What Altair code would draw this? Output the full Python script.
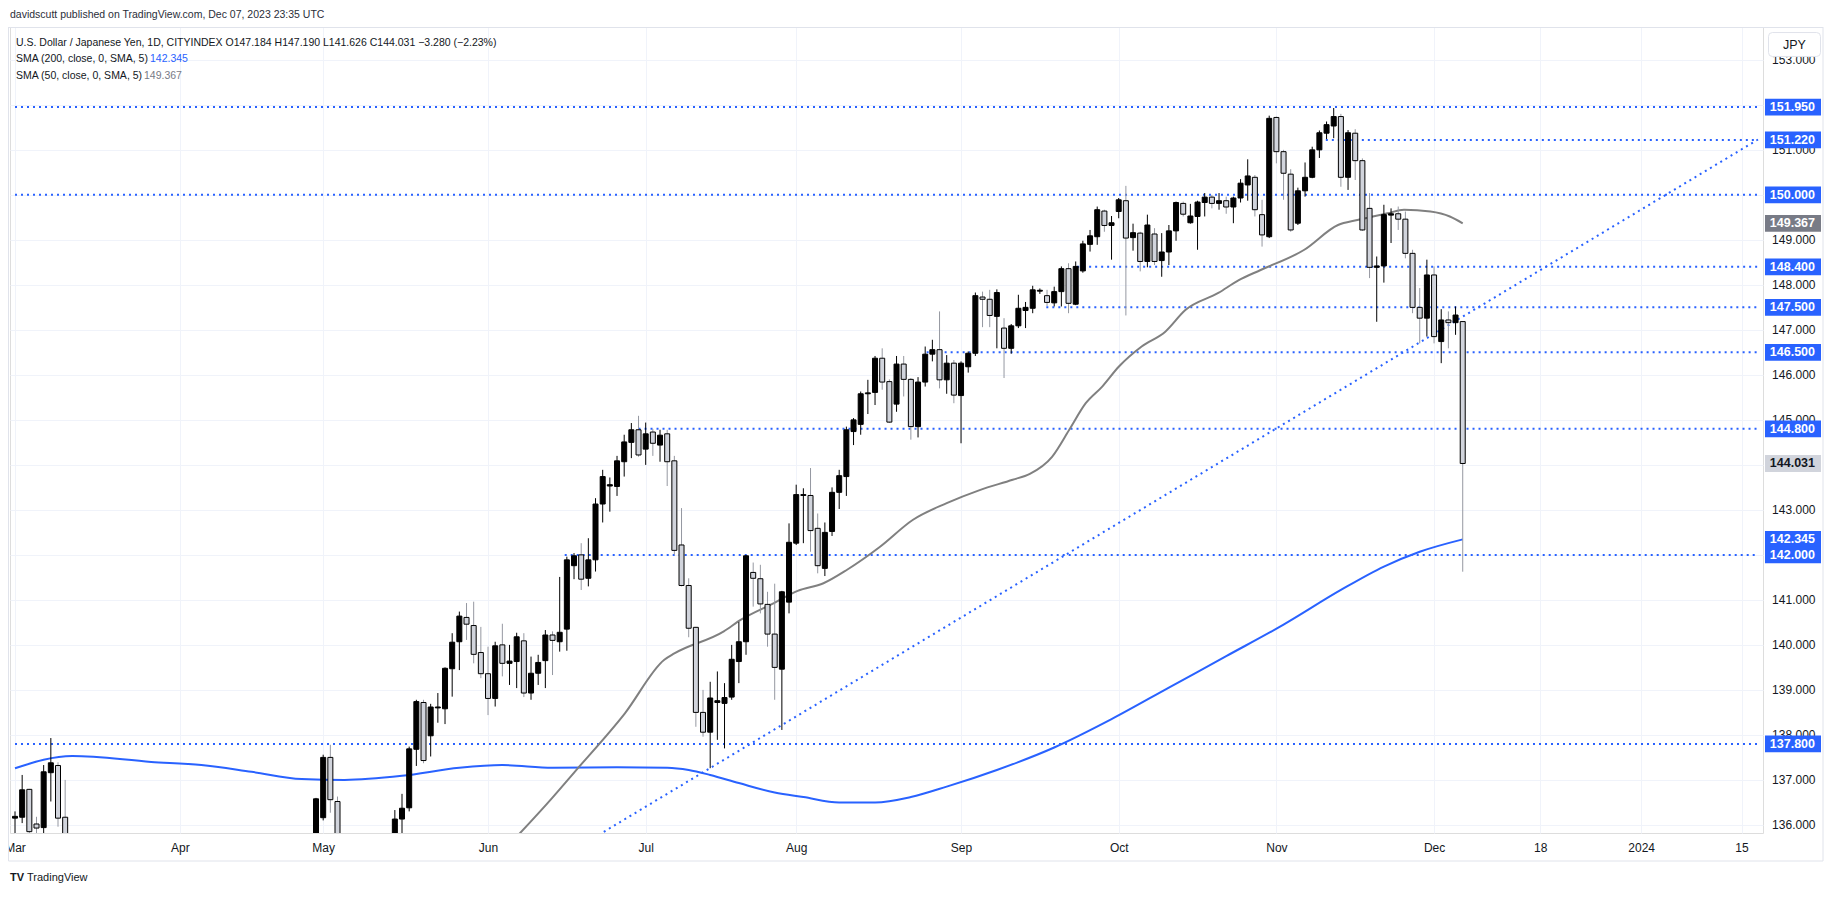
import altair as alt
import pandas as pd

# ---------------- data ----------------
bar_index = [0, 1, 2, 3, 4, 5, 6, 7, 42, 43, 44, 45,
             53, 54, 55, 56, 57, 58, 59, 60, 61, 62, 63, 64, 65, 66, 67, 68, 69, 70,
             71, 72, 73, 74, 75, 76, 77, 78, 79, 80, 81, 82, 83, 84, 85, 86, 87, 88, 89, 90,
             91, 92, 93, 94, 95, 96, 97, 98, 99, 100, 101, 102, 103, 104, 105, 106, 107, 108, 109, 110,
             111, 112, 113, 114, 115, 116, 117, 118, 119, 120, 121, 122, 123, 124, 125, 126, 127, 128, 129, 130,
             131, 132, 133, 134, 135, 136, 137, 138, 139, 140, 141, 142, 143, 144, 145, 146, 147, 148, 149, 150,
             151, 152, 153, 154, 155, 156, 157, 158, 159, 160, 161, 162, 163, 164, 165, 166, 167, 168, 169, 170,
             171, 172, 173, 174, 175, 176, 177, 178, 179, 180, 181, 182, 183, 184, 185, 186, 187, 188, 189, 190,
             191, 192, 193, 194, 195, 196, 197, 198, 199, 200, 201, 202]
bar_open = [136.15, 136.17, 136.79, 136.02, 135.94, 137.16, 137.32, 136.17, 133.90, 136.16, 137.50, 136.52,
            135.70, 136.13, 136.38, 137.68, 138.72, 137.98, 138.60, 138.58, 139.47, 140.07, 140.61, 140.43, 139.83, 139.36, 138.81, 140.00, 139.59, 139.63,
            140.09, 138.93, 139.37, 139.65, 140.22, 140.07, 140.35, 141.76, 142.00, 141.48, 141.89, 143.13, 143.53, 143.52, 144.07, 144.50, 144.78, 144.35, 144.73, 144.44,
            144.69, 144.09, 142.22, 141.32, 140.39, 138.50, 138.06, 138.72, 138.70, 138.84, 139.63, 140.07, 141.61, 141.47, 140.90, 140.24, 139.46, 140.95, 142.26, 143.32,
            143.32, 142.59, 141.70, 142.52, 143.39, 143.74, 144.74, 144.90, 145.58, 145.61, 146.37, 145.85, 145.35, 146.24, 145.90, 144.85, 145.84, 146.46, 146.56, 145.89,
            146.26, 145.54, 146.18, 146.48, 147.73, 147.68, 147.30, 147.04, 146.59, 147.09, 147.43, 147.48, 147.86, 147.76, 147.60, 147.85, 148.36, 147.57, 148.31, 148.90,
            149.07, 149.64, 149.32, 149.63, 149.87, 149.05, 149.15, 148.52, 149.13, 148.54, 148.73, 149.20, 149.81, 149.38, 149.52, 149.83, 149.95, 149.81, 149.87, 149.73,
            149.93, 150.22, 150.39, 149.56, 149.07, 151.72, 150.96, 150.46, 149.37, 150.09, 150.39, 151.00, 151.37, 151.53, 151.74, 150.39, 151.37, 150.76, 149.70, 148.39,
            148.42, 149.55, 149.58, 149.46, 148.70, 147.50, 147.26, 148.22, 146.74, 147.22, 147.16, 147.184]
bar_high = [136.30, 137.11, 136.80, 136.18, 137.33, 137.93, 137.39, 137.00, 136.60, 137.56, 137.78, 136.63,
            136.33, 136.69, 137.74, 138.78, 138.78, 138.69, 138.93, 139.50, 140.26, 140.74, 140.93, 140.96, 140.40, 139.96, 140.07, 140.47, 140.00, 140.27,
            140.26, 139.74, 139.78, 140.33, 140.30, 141.51, 141.96, 142.04, 142.26, 142.37, 143.26, 143.89, 143.72, 144.20, 144.67, 144.93, 145.09, 144.94, 144.80, 144.78,
            144.78, 144.20, 143.04, 141.48, 140.40, 139.00, 139.18, 139.41, 139.15, 140.00, 140.51, 142.00, 141.83, 141.78, 141.18, 141.36, 141.20, 142.70, 143.56, 143.48,
            143.93, 142.92, 142.72, 143.50, 143.89, 144.85, 145.04, 145.63, 145.89, 146.42, 146.59, 145.90, 146.42, 146.42, 145.93, 145.95, 146.63, 146.78, 147.41, 146.44,
            146.33, 146.30, 146.52, 147.83, 147.85, 147.89, 147.90, 147.26, 147.13, 147.78, 147.62, 147.98, 147.92, 147.89, 147.96, 148.41, 148.48, 148.52, 148.98, 149.22,
            149.74, 149.67, 149.53, 149.93, 150.20, 149.36, 149.18, 149.56, 149.26, 149.15, 149.33, 149.85, 149.85, 149.80, 149.87, 150.04, 150.00, 150.04, 149.96, 149.96,
            150.35, 150.79, 150.44, 149.89, 151.76, 151.74, 151.00, 150.57, 150.16, 150.72, 151.07, 151.43, 151.63, 151.93, 151.80, 151.44, 151.46, 150.81, 150.04, 148.63,
            149.78, 149.70, 149.74, 149.63, 148.78, 147.93, 148.56, 148.41, 147.46, 147.41, 147.52, 147.190]
bar_low = [135.60, 136.04, 135.60, 135.80, 135.80, 136.52, 135.96, 134.90, 133.30, 136.10, 136.27, 134.50,
           135.50, 135.80, 136.30, 137.31, 137.37, 137.52, 138.27, 138.24, 138.85, 139.44, 140.11, 139.59, 139.26, 138.44, 138.63, 139.30, 139.11, 139.04,
           138.84, 138.78, 139.11, 139.04, 139.33, 139.85, 139.87, 141.46, 141.22, 141.30, 141.63, 142.72, 142.96, 143.31, 143.74, 144.15, 144.18, 144.00, 144.20, 144.07,
           143.53, 142.00, 141.30, 140.17, 138.18, 137.96, 137.26, 137.89, 137.70, 138.78, 139.15, 139.78, 140.85, 140.70, 139.96, 138.78, 138.11, 140.70, 142.22, 142.26,
           142.07, 141.59, 141.53, 142.42, 143.02, 143.31, 144.44, 144.67, 145.13, 145.33, 145.67, 144.93, 145.18, 145.52, 144.56, 144.61, 145.74, 146.30, 145.70, 145.58,
           145.37, 144.48, 146.05, 146.42, 147.06, 147.06, 146.59, 145.93, 146.47, 147.04, 147.04, 147.37, 147.80, 147.53, 147.52, 147.52, 147.37, 147.55, 148.27, 148.74,
           148.89, 149.18, 148.56, 149.48, 147.32, 148.76, 148.30, 148.39, 148.44, 148.18, 148.44, 148.98, 149.52, 149.36, 148.78, 149.52, 149.70, 149.67, 149.58, 149.37,
           149.83, 149.87, 149.52, 148.85, 149.04, 150.70, 149.89, 149.18, 149.33, 149.96, 150.37, 150.82, 151.24, 151.26, 150.18, 150.11, 150.33, 149.20, 148.15, 147.18,
           148.05, 148.93, 149.22, 148.59, 147.37, 146.70, 146.85, 146.70, 146.26, 146.59, 146.89, 141.626]
bar_close = [136.19, 136.78, 135.85, 135.93, 137.18, 137.38, 136.15, 135.20, 136.58, 137.50, 136.56, 134.70,
             136.13, 136.37, 137.69, 138.74, 137.43, 138.62, 138.62, 139.48, 140.06, 140.64, 140.46, 139.79, 139.36, 138.81, 139.98, 139.59, 139.64, 140.18,
             138.93, 139.37, 139.61, 140.22, 140.10, 140.28, 141.89, 141.98, 141.46, 141.89, 143.13, 143.74, 143.56, 144.09, 144.51, 144.78, 144.22, 144.69, 144.48, 144.66,
             144.07, 142.10, 141.32, 140.37, 138.50, 138.06, 138.82, 138.76, 138.83, 139.68, 140.07, 141.98, 141.48, 140.91, 140.24, 139.50, 141.18, 142.28, 143.34, 143.34,
             142.54, 141.76, 142.50, 143.39, 143.76, 144.78, 145.00, 145.58, 145.60, 146.37, 145.84, 144.95, 146.24, 145.90, 144.85, 145.84, 146.46, 146.56, 145.89, 146.26,
             145.55, 146.26, 146.48, 147.76, 147.68, 147.32, 147.83, 146.59, 147.09, 147.48, 147.50, 147.89, 147.88, 147.61, 147.85, 148.36, 147.59, 148.41, 148.91, 149.09,
             149.67, 149.32, 149.38, 149.89, 149.04, 149.16, 148.52, 149.33, 148.52, 148.73, 149.20, 149.83, 149.57, 149.53, 149.84, 149.95, 149.81, 149.87, 149.73, 149.93,
             150.26, 150.42, 149.67, 149.11, 151.70, 150.96, 150.48, 149.22, 150.09, 150.39, 151.00, 151.38, 151.56, 151.74, 150.39, 151.38, 150.76, 149.22, 148.39, 148.42,
             149.56, 149.58, 149.46, 148.70, 147.50, 147.26, 148.22, 146.85, 147.22, 147.16, 147.33, 144.031]

sma200_index = [0, 8, 19, 26, 33, 40, 46, 54, 62, 68, 75, 84, 91, 94, 97, 101, 106, 110, 115, 120,
                125, 130, 137, 145, 153, 161, 169, 177, 185, 191, 196, 202]
sma200_value = [137.26, 137.53, 137.40, 137.33, 137.18, 137.02, 137.00, 137.09, 137.27, 137.33, 137.27, 137.28,
                137.27, 137.22, 137.11, 136.93, 136.72, 136.62, 136.50, 136.50, 136.62, 136.85, 137.22, 137.72,
                138.35, 139.05, 139.75, 140.45, 141.22, 141.74, 142.07, 142.345]

sma50_index = [68, 74.9, 78.1, 85.1, 90.6, 92, 98.9, 101.3, 105.9, 109.2, 112.8, 116.1, 120.7, 125.3, 130,
               134.6, 139.2, 141.6, 144.7, 147.1, 149.4, 151.7, 154, 157.2, 160.5, 163.3, 167.9, 170.7, 173.8,
               179.9, 184.6, 187.3, 191.5, 193.8, 197.5, 200.2, 202]
sma50_value = [135.40, 136.59, 137.18, 138.48, 139.67, 139.81, 140.30, 140.56, 140.93, 141.20, 141.37, 141.67,
               142.18, 142.78, 143.15, 143.44, 143.67, 143.80, 144.18, 144.78, 145.37, 145.74, 146.18, 146.63,
               146.96, 147.44, 147.82, 148.10, 148.33, 148.78, 149.33, 149.44, 149.59, 149.67, 149.63, 149.52, 149.367]

level_price = [151.95, 151.22, 150.0, 148.4, 147.5, 146.5, 144.8, 142.0, 137.8]
level_start = [0, 182.9, 0, 148.2, 143.9, 127.2, 87.0, 76.7, 0]

trend_index = [80, 243.2]
trend_price = [135.64, 151.23]

blue_tag_price = [151.95, 151.22, 150.0, 148.4, 147.5, 146.5, 144.8, 142.345, 142.0, 137.8]
sma50_tag_price = [149.367]
last_tag_price = [144.031]

price_ticks = list(range(136, 154))
x_tick_pos = [0, 23, 43, 66, 88, 109, 132, 154, 176, 198, 212.8, 226.9, 240.9]
x_tick_label = ["Mar", "Apr", "May", "Jun", "Jul", "Aug", "Sep", "Oct", "Nov", "Dec", "18", "2024", "15"]

header = "davidscutt published on TradingView.com, Dec 07, 2023 23:35 UTC"
legend_main = "U.S. Dollar / Japanese Yen, 1D, CITYINDEX  O147.184  H147.190  L141.626  C144.031  \u22123.280 (\u22122.23%)"

# ---------------- frames ----------------
X_END = 243.2
bars = pd.DataFrame({"i": bar_index, "open": bar_open, "high": bar_high, "low": bar_low, "close": bar_close})
up = bars[bars["close"] >= bars["open"]]
down = bars[bars["close"] < bars["open"]]
sma200 = pd.DataFrame({"i": sma200_index, "v": sma200_value})
sma50 = pd.DataFrame({"i": sma50_index, "v": sma50_value})
levels = pd.DataFrame({"p": level_price, "s": level_start, "e": [X_END] * len(level_price)})
trend = pd.DataFrame({"i": trend_index, "v": trend_price})


def tag_frame(prices):
    return pd.DataFrame({"p": prices, "txt": [f"{p:.3f}" for p in prices]})


FONT = "Liberation Sans"
xscale = alt.Scale(domain=[0, X_END], nice=False, zero=False)
yscale = alt.Scale(domain=[135.82, 153.73], nice=False, zero=False)

label_expr = " : ".join(f"datum.value == {p} ? '{t}'" for p, t in zip(x_tick_pos, x_tick_label)) + " : ''"

xaxis = alt.Axis(values=x_tick_pos, labelExpr=label_expr, grid=True, gridColor="#F0F3FA", ticks=False,
                 domain=False, labelPadding=9, labelFlush=False, labelOverlap=False, labelFont=FONT,
                 labelFontSize=12, labelColor="#131722", title=None)
yaxis = alt.Axis(orient="right", values=price_ticks, format=".3f", grid=True, gridColor="#F0F3FA", ticks=False,
                 domain=False, labelAlign="right", labelPadding=52, labelBaseline="middle", labelFont=FONT,
                 labelFontSize=12, labelColor="#131722", title=None)


def X(f):
    return alt.X(f, type="quantitative", scale=xscale, axis=xaxis)


def Y(f):
    return alt.Y(f, type="quantitative", scale=yscale, axis=yaxis)


level_rules = alt.Chart(levels).mark_rule(color="#2962FF", strokeWidth=2, strokeDash=[2, 4], clip=True).encode(
    x=X("s"), x2="e", y=Y("p"))

trend_line = alt.Chart(trend).mark_line(color="#2962FF", strokeWidth=2, strokeDash=[2, 4], clip=True).encode(
    x=X("i"), y=Y("v"))

sma200_line = alt.Chart(sma200).mark_line(color="#2962FF", strokeWidth=2, interpolate="monotone", clip=True).encode(
    x=X("i"), y=Y("v"))
sma50_line = alt.Chart(sma50).mark_line(color="#808080", strokeWidth=2, interpolate="monotone", clip=True).encode(
    x=X("i"), y=Y("v"))

wick_up = alt.Chart(up).mark_rule(strokeWidth=1, color="#000000", clip=True).encode(x=X("i"), y=Y("low"), y2="high")
wick_dn = alt.Chart(down).mark_rule(strokeWidth=1, color="#9598A1", clip=True).encode(x=X("i"), y=Y("low"), y2="high")
body_up = alt.Chart(up).mark_bar(size=5, fill="#000000", stroke="#000000", strokeWidth=1, clip=True).encode(
    x=X("i"), y=Y("open"), y2="close")
body_dn = alt.Chart(down).mark_bar(size=5, fill="#D1D4DC", stroke="#000000", strokeWidth=1, clip=True).encode(
    x=X("i"), y=Y("open"), y2="close")

TAG_SHAPE = "M-1,-0.3L1,-0.3L1,0.3L-1,0.3Z"


def tag_layers(prices, fill, text_color):
    df = tag_frame(prices)
    box = alt.Chart(df).mark_point(shape=TAG_SHAPE, filled=True, fill=fill, size=3136, opacity=1,
                                   strokeWidth=0).encode(x=alt.value(1783), y=Y("p"))
    txt = alt.Chart(df).mark_text(align="right", baseline="middle", font=FONT, fontSize=12.5,
                                  fontWeight="bold", color=text_color).encode(
        x=alt.value(1805), y=Y("p"), text="txt:N")
    return [box, txt]


one = pd.DataFrame({"a": [0]})
JPY_SHAPE = ("M-0.85,-0.46L0.85,-0.46Q1,-0.46 1,-0.31L1,0.31Q1,0.46 0.85,0.46L-0.85,0.46"
             "Q-1,0.46 -1,0.31L-1,-0.31Q-1,-0.46 -0.85,-0.46Z")
jpy_box = alt.Chart(one).mark_point(shape=JPY_SHAPE, filled=True, fill="#FFFFFF", stroke="#E0E3EB",
                                    strokeWidth=1, size=2704, opacity=1).encode(x=alt.value(1784.5), y=alt.value(17.5))
jpy_txt = alt.Chart(one).mark_text(text="JPY", font=FONT, fontSize=12.5, color="#131722", baseline="middle").encode(
    x=alt.value(1784.5), y=alt.value(17.5))

frame_top = alt.Chart(one).mark_rule(color="#E0E3EB", strokeWidth=1).encode(
    x=alt.value(-1.5), x2=alt.value(1813), y=alt.value(0.5))
frame_left = alt.Chart(one).mark_rule(color="#E0E3EB", strokeWidth=1).encode(
    x=alt.value(-1.5), y=alt.value(0), y2=alt.value(834))
frame_right = alt.Chart(one).mark_rule(color="#E0E3EB", strokeWidth=1).encode(
    x=alt.value(1813), y=alt.value(0), y2=alt.value(834))
frame_bottom = alt.Chart(one).mark_rule(color="#E0E3EB", strokeWidth=1).encode(
    x=alt.value(-1.5), x2=alt.value(1813), y=alt.value(834))


def label(text, x, y, color="#131722", size=10.5, weight="normal"):
    return alt.Chart(one).mark_text(text=text, align="left", baseline="middle", font=FONT, fontSize=size,
                                    color=color, fontWeight=weight).encode(x=alt.value(x), y=alt.value(y))


texts = [
    label(header, 0, -12, color="#2A2E39", size=10.5),
    label(legend_main, 6, 16),
    label("SMA (200, close, 0, SMA, 5)", 6, 32),
    label("142.345", 140, 32, color="#2962FF"),
    label("SMA (50, close, 0, SMA, 5)", 6, 49),
    label("149.367", 134, 49, color="#787B86"),
    label("TV", 0, 851, size=11, weight="bold"),
    label("TradingView", 17, 851, size=11),
]

chart = alt.layer(
    level_rules, trend_line, sma200_line, sma50_line, wick_up, wick_dn, body_up, body_dn,
    *tag_layers(blue_tag_price, "#2962FF", "#FFFFFF"),
    *tag_layers(sma50_tag_price, "#787B86", "#FFFFFF"),
    *tag_layers(last_tag_price, "#D1D4DC", "#131722"),
    jpy_box, jpy_txt, frame_top, frame_left, frame_right, frame_bottom, *texts
).properties(
    width=1753, height=806,
    padding={"left": 2, "top": 19, "right": 64, "bottom": 50},
    autosize=alt.AutoSizeParams(type="none"),
).configure_view(stroke=None).configure(background="#FFFFFF")

chart.save("out.html", embed_options={"renderer": "svg", "actions": False})
